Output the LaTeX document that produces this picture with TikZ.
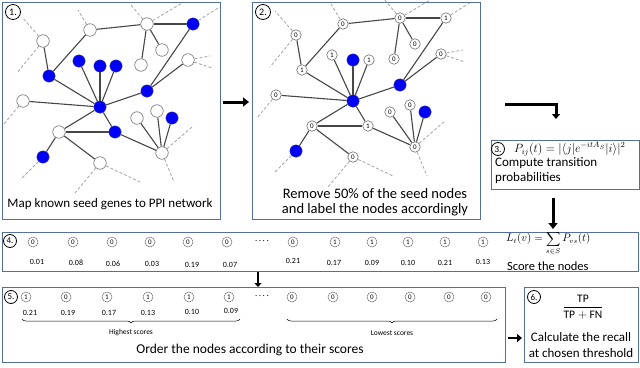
\documentclass[tikz,border=0pt]{standalone}
\usepackage{fontspec}
\setmainfont{Carlito}
\usetikzlibrary{arrows.meta,decorations.pathreplacing}
\definecolor{pborder}{RGB}{84,110,160}
\definecolor{nblue}{RGB}{0,0,245}
\definecolor{edgec}{RGB}{70,70,70}
\definecolor{dashc}{RGB}{165,165,165}
\definecolor{nodeline}{RGB}{110,110,110}
\pgfdeclarelayer{bg}
\pgfsetlayers{bg,main}
\newcommand\netedges[1]{%
  \coordinate (#1d1) at (22,17);
  \coordinate (#1d2) at (17,73);
  \coordinate (#1d3) at (78,10);
  \coordinate (#1d4) at (131,5);
  \coordinate (#1d5) at (182,3);
  \coordinate (#1d6) at (218,8);
  \coordinate (#1d7) at (210,56);
  \coordinate (#1d8) at (212,68);
  \coordinate (#1d9) at (4,124);
  \coordinate (#1d10) at (22,178);
  \coordinate (#1d11) at (75,193);
  \coordinate (#1d12) at (140,182);
  \coordinate (#1d13) at (192,127);
  \coordinate (#1d14) at (174,182);
  \begin{pgfonlayer}{bg}
  \draw[dedge] (#1A) -- (#1d1);
  \draw[dedge] (#1A) -- (#1d2);
  \draw[dedge] (#1B) -- (#1d3);
  \draw[dedge] (#1G) -- (#1d4);
  \draw[dedge] (#1G) -- (#1d5);
  \draw[dedge] (#1H) -- (#1d6);
  \draw[dedge] (#1L) -- (#1d7);
  \draw[dedge] (#1L) -- (#1d8);
  \draw[dedge] (#1N) -- (#1d9);
  \draw[dedge] (#1R) -- (#1d10);
  \draw[dedge] (#1S) -- (#1d11);
  \draw[dedge] (#1S) -- (#1d12);
  \draw[dedge] (#1W) -- (#1d13);
  \draw[dedge] (#1W) -- (#1d14);
  \draw[edge] (#1A) -- (#1F);
  \draw[edge] (#1B) -- (#1F);
  \draw[edge] (#1B) -- (#1G);
  \draw[edge] (#1G) -- (#1H);
  \draw[edge] (#1G) -- (#1I);
  \draw[edge] (#1G) -- (#1J);
  \draw[edge] (#1H) -- (#1K);
  \draw[edge] (#1L) -- (#1K);
  \draw[edge] (#1M) -- (#1C);
  \draw[edge] (#1M) -- (#1D);
  \draw[edge] (#1M) -- (#1E);
  \draw[edge] (#1M) -- (#1F);
  \draw[edge] (#1M) -- (#1N);
  \draw[edge] (#1M) -- (#1K);
  \draw[edge] (#1M) -- (#1P);
  \draw[edge] (#1M) -- (#1Q);
  \draw[edge] (#1P) -- (#1Q);
  \draw[edge] (#1P) -- (#1R);
  \draw[edge] (#1P) -- (#1S);
  \draw[edge] (#1T) -- (#1W);
  \draw[edge] (#1U) -- (#1W);
  \draw[edge] (#1V) -- (#1W);
  \draw[edge] (#1Q) -- (#1W);
  \end{pgfonlayer}
}
\begin{document}
\begin{tikzpicture}[x=1pt,y=-1pt,
  panel/.style={draw=pborder, line width=0.9pt},
  num/.style={circle, draw=black, line width=0.8pt, inner sep=0pt, minimum size=15pt, font=\fontsize{10}{10}\selectfont},
  bnode/.style={circle, fill=nblue, draw=nodeline, line width=0.3pt, minimum size=12.5pt, inner sep=0pt},
  wnode/.style={circle, fill=white, draw=nodeline, line width=0.6pt, minimum size=12.5pt, inner sep=0pt},
  lnode/.style={circle, fill=white, draw=nodeline, line width=0.6pt, minimum size=10.5pt, inner sep=0pt, font=\fontsize{7}{7}\selectfont},
  edge/.style={draw=edgec, line width=1.1pt},
  dedge/.style={draw=dashc, line width=0.8pt, dash pattern=on 3pt off 2pt},
  score/.style={circle, draw=nodeline, line width=0.5pt, minimum size=10pt, inner sep=0pt, font=\fontsize{7}{7}\selectfont},
  val/.style={font=\fontsize{8}{8}\selectfont},
  lbl/.style={font=\fontsize{13}{15}\selectfont, align=center},
  bigarrow/.style={line width=3pt, -{Triangle[length=6pt,width=9pt]}},
]
\useasboundingbox (0,0) rectangle (640,367);

% ---------- Panel 1 ----------
\node[panel, minimum width=218pt, minimum height=217pt, anchor=north west, inner sep=0pt] (box1) at (2,2) {};
\node[num] (n1) at (13,12) {1.};
\node[wnode] (aA) at (43,41) {};
\node[wnode] (aB) at (90,30) {};
\node[bnode] (aC) at (79,61) {};
\node[bnode] (aD) at (100,66) {};
\node[bnode] (aE) at (116,66) {};
\node[bnode] (aF) at (49,76) {};
\node[wnode] (aG) at (147,24) {};
\node[bnode] (aH) at (193,24) {};
\node[wnode] (aI) at (162,50) {};
\node[wnode] (aJ) at (141,65) {};
\node[bnode] (aK) at (147,91) {};
\node[wnode] (aL) at (188,60) {};
\node[bnode] (aM) at (100,107) {};
\node[wnode] (aN) at (23,101) {};
\node[wnode] (aP) at (59,132) {};
\node[bnode] (aQ) at (115,132) {};
\node[bnode] (aR) at (43,157) {};
\node[wnode] (aS) at (100,163) {};
\node[wnode] (aT) at (137,118) {};
\node[wnode] (aU) at (157,111) {};
\node[bnode] (aV) at (172,118) {};
\node[wnode] (aW) at (162,153) {};
\netedges{a}
\node[lbl] (t1) at (110,204) {Map known seed genes to PPI network};

% ---------- Panel 2 ----------
\node[panel, minimum width=228pt, minimum height=217pt, anchor=north west, inner sep=0pt] (box2) at (252,2) {};
\node[num] (n2) at (263,12) {2.};
\begin{scope}
\clip (253,3) rectangle (479,218);
\begin{scope}[shift={(253,-6)}]
\node[lnode] (bA) at (43,41) {0};
\node[lnode] (bB) at (90,30) {0};
\node[lnode] (bC) at (79,61) {1};
\node[bnode] (bD) at (100,66) {};
\node[lnode] (bE) at (116,66) {1};
\node[lnode] (bF) at (49,76) {1};
\node[lnode] (bG) at (147,24) {0};
\node[lnode] (bH) at (193,24) {1};
\node[lnode] (bI) at (162,50) {0};
\node[lnode] (bJ) at (141,65) {0};
\node[bnode] (bK) at (147,91) {};
\node[lnode] (bL) at (188,60) {0};
\node[bnode] (bM) at (100,107) {};
\node[lnode] (bN) at (23,101) {0};
\node[lnode] (bP) at (59,132) {0};
\node[lnode] (bQ) at (115,132) {1};
\node[bnode] (bR) at (43,157) {};
\node[lnode] (bS) at (100,163) {0};
\node[lnode] (bT) at (137,118) {0};
\node[lnode] (bU) at (157,111) {0};
\node[bnode] (bV) at (172,118) {};
\node[lnode] (bW) at (162,153) {0};
\netedges{b}
\end{scope}
\end{scope}
\node[lbl, font=\fontsize{14.5}{15.5}\selectfont] (t2) at (375,202) {Remove 50\% of the seed nodes\\and label the nodes accordingly};

% arrow 1 -> 2
\coordinate (a12s) at (223,102);
\coordinate (a12e) at (249,102);
\draw[bigarrow] (a12s) -- (a12e);

% ---------- Panel 3 ----------
\coordinate (bend1) at (505,104);
\coordinate (bend2) at (556,104);
\coordinate (bend3) at (556,119);
\draw[line width=3pt, -{Triangle[length=5pt,width=8pt]}] (bend1) -- (bend2) -- (bend3);
\node[panel, minimum width=148pt, minimum height=49pt, anchor=north west, inner sep=0pt] (box3) at (491,140) {};
\node[num, minimum size=13pt, font=\fontsize{9.5}{9.5}\selectfont] (n3) at (498,149) {3.};
\node[anchor=west, inner sep=0pt, font=\fontsize{11.5}{12}\selectfont] (f3) at (514,149) {$P_{ij}(t)=|\langle j|e^{-itA_S}|i\rangle|^2$};
\node[anchor=north west, align=left, inner sep=0pt, font=\fontsize{13}{15}\selectfont] (t3) at (495,157) {Compute transition\\probabilities};
\coordinate (a34s) at (553,198);
\coordinate (a34e) at (553,229);
\draw[bigarrow] (a34s) -- (a34e);

% ---------- Panel 4 ----------
\node[panel, minimum width=636pt, minimum height=39pt, anchor=north west, inner sep=0pt] (box4) at (2,232) {};
\node[num, minimum size=13pt, font=\fontsize{9}{9}\selectfont] (n4) at (10,241) {4.};
\node[score] (c1) at (33,242) {0};
\node[score] (c2) at (73,242) {0};
\node[score] (c3) at (112,242) {0};
\node[score] (c4) at (150,242) {0};
\node[score] (c5) at (188,242) {0};
\node[score] (c6) at (227,242) {0};
\node[font=\fontsize{9}{9}\selectfont] (dots4) at (262,241) {.\,.\,.\,.};
\node[score] (c7) at (293,242) {0};
\node[score] (c8) at (335,242) {1};
\node[score] (c9) at (372,242) {1};
\node[score] (c10) at (408,242) {1};
\node[score] (c11) at (445,242) {1};
\node[score] (c12) at (483,242) {1};
\node[val] (v1) at (37,262) {0.01};
\node[val] (v2) at (76,263) {0.08};
\node[val] (v3) at (113,264) {0.06};
\node[val] (v4) at (152,264) {0.03};
\node[val] (v5) at (192,265) {0.19};
\node[val] (v6) at (230,265) {0.07};
\node[val] (v7) at (293,261) {0.21};
\node[val] (v8) at (334,263) {0.17};
\node[val] (v9) at (372,263) {0.09};
\node[val] (v10) at (408,263) {0.10};
\node[val] (v11) at (445,263) {0.21};
\node[val] (v12) at (483,262) {0.13};
\node[anchor=west, inner sep=0pt, font=\fontsize{10.5}{11}\selectfont] (f4) at (506,243) {$L_t(v)=\displaystyle\sum_{s\in S}P_{vs}(t)$};
\node[anchor=west, inner sep=0pt, font=\fontsize{12.5}{12.5}\selectfont] (t4) at (507,266) {Score the nodes};
\coordinate (a45s) at (258,272);
\coordinate (a45e) at (258,287);
\draw[line width=2.5pt, -{Triangle[length=4pt,width=7pt]}] (a45s) -- (a45e);

% ---------- Panel 5 ----------
\node[panel, minimum width=503pt, minimum height=75pt, anchor=north west, inner sep=0pt] (box5) at (2,287) {};
\node[num, minimum size=13pt, font=\fontsize{9}{9}\selectfont] (n5) at (11,297) {5.};
\node[score] (d1) at (26,297) {1};
\node[score] (d2) at (66,297) {0};
\node[score] (d3) at (107,297) {1};
\node[score] (d4) at (148,297) {1};
\node[score] (d5) at (189,297) {1};
\node[score] (d6) at (229,297) {1};
\node[font=\fontsize{9}{9}\selectfont] (dots5) at (262,296) {.\,.\,.\,.};
\node[score] (d7) at (292,297) {0};
\node[score] (d8) at (333,297) {0};
\node[score] (d9) at (372,297) {0};
\node[score] (d10) at (410,297) {0};
\node[score] (d11) at (449,297) {0};
\node[score] (d12) at (486,297) {0};
\node[val] (w1) at (30,313) {0.21};
\node[val] (w2) at (68,313) {0.19};
\node[val] (w3) at (109,313) {0.17};
\node[val] (w4) at (148,313) {0.13};
\node[val] (w5) at (192,312) {0.10};
\node[val] (w6) at (231,311) {0.09};
\coordinate (h1) at (22,319);
\coordinate (h2) at (240,319);
\draw[line width=0.5pt, decorate, decoration={brace, mirror, amplitude=4pt}] (h1) -- (h2);
\node[val, font=\fontsize{7.5}{8}\selectfont] (hs) at (131,333) {Highest scores};
\coordinate (l1) at (287,319);
\coordinate (l2) at (497,319);
\draw[line width=0.5pt, decorate, decoration={brace, mirror, amplitude=4pt}] (l1) -- (l2);
\node[val, font=\fontsize{7.5}{8}\selectfont] (ls) at (392,333) {Lowest scores};
\node[font=\fontsize{13.5}{14}\selectfont] (t5) at (250,350) {Order the nodes according to their scores};

% arrow 5 -> 6
\coordinate (a56s) at (508,338);
\coordinate (a56e) at (522,338);
\draw[line width=2.5pt, -{Triangle[length=5pt,width=8pt]}] (a56s) -- (a56e);

% ---------- Panel 6 ----------
\node[panel, minimum width=114pt, minimum height=75pt, anchor=north west, inner sep=0pt] (box6) at (524,287) {};
\node[num, minimum size=13pt, font=\fontsize{9}{9}\selectfont] (n6) at (534,297) {6.};
\node[font=\fontsize{11.5}{12}\selectfont] (f6) at (583,307) {$\displaystyle\frac{\mathrm{TP}}{\mathrm{TP}+\mathrm{FN}}$};
\node[lbl, font=\fontsize{13}{16}\selectfont] (t6) at (581,345) {Calculate the recall\\at chosen threshold};
\end{tikzpicture}
\end{document}
